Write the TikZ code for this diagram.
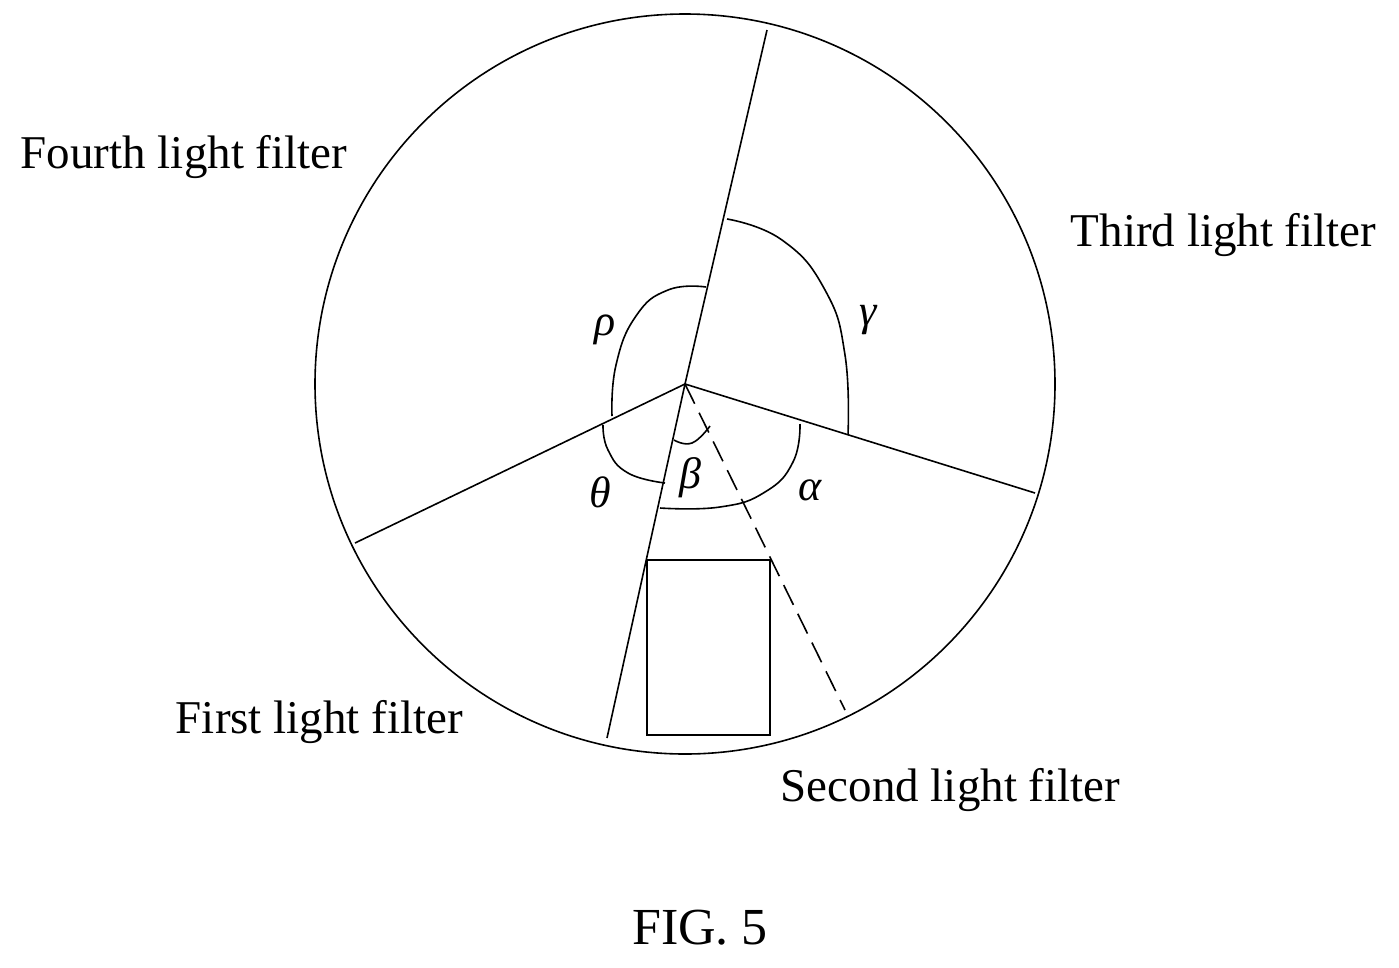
\documentclass[tikz,border=0pt]{standalone}
\usepackage{fontspec}
\setmainfont{Liberation Serif}
\begin{document}
\begin{tikzpicture}[x=1pt,y=-1pt,line width=1.6pt,
  lab/.style={font=\fontsize{47}{50}\selectfont,inner sep=0pt},
  gk/.style={font=\fontsize{44}{48}\selectfont\itshape,inner sep=0pt}]
\useasboundingbox (0,0) rectangle (1399,967);
\coordinate (c) at (685,384);
\draw (685,384) circle (370);
\coordinate (a) at (767,30);
\coordinate (b) at (1035,493);
\coordinate (d) at (607,738);
\coordinate (e) at (355,543);
\coordinate (f) at (845,710);
\draw (c)--(a); \draw (c)--(b); \draw (c)--(d); \draw (c)--(e);
\draw[dashed,dash pattern=on 22pt off 10pt] (c)--(f);
\draw (647,560) rectangle (770,735);
\draw plot[smooth,tension=0.8] coordinates {(612,416) (616,365) (636,316) (668,290) (706,287)};
\draw plot[smooth,tension=0.8] coordinates {(727,219) (782,240) (825,290) (845,355) (848,435)};
\draw plot[smooth,tension=0.8] coordinates {(800,424) (793,462) (765,492) (720,507) (660,508)};
\draw plot[smooth,tension=0.8] coordinates {(603,425) (608,450) (628,473) (665,483)};
\draw plot[smooth,tension=0.8] coordinates {(674,440) (692,443) (710,426)};
\node[lab,anchor=west] (t4) at (20,157) {Fourth light filter};
\node[lab,anchor=west] (t3) at (1070,235) {Third light filter};
\node[lab,anchor=west] (t1) at (175,722) {First light filter};
\node[lab,anchor=west] (t2) at (780,790) {Second light filter};
\node[font=\fontsize{52}{56}\selectfont,inner sep=0pt] (fig) at (700,928) {FIG. 5};
\node[gk] (rho) at (605,330) {ρ};
\node[gk] (gam) at (868,320) {γ};
\node[gk] (the) at (600,492) {θ};
\node[gk] (bet) at (690,478) {β};
\node[gk] (alp) at (810,490) {α};
\end{tikzpicture}
\end{document}
